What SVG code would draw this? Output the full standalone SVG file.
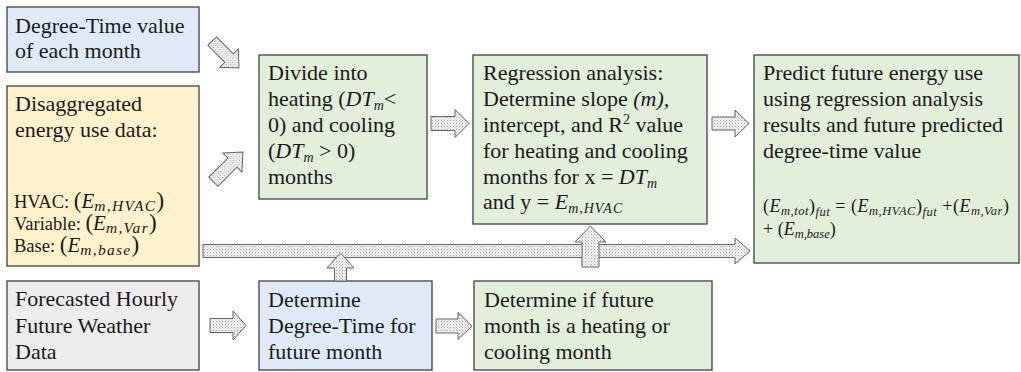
<svg xmlns="http://www.w3.org/2000/svg" width="1021" height="372" viewBox="0 0 1021 372">
  <style>
    .box { stroke: #3f3f3f; stroke-width: 1.3; }
    .blue { fill: #dfeaf6; }
    .orange { fill: #fff2cc; }
    .gray { fill: #ededed; }
    .green { fill: #e2efda; }
    .t { font-family: "Liberation Serif", "Times New Roman", serif; font-size: 22px; fill: #1a1a1a; }
    .ts { font-size: 18.5px; }
    .mi { font-style: italic; }
    .me { font-style: italic; font-size: 21px; }
    .sub { font-style: italic; font-size: 14px; }
    .subl { font-style: italic; font-size: 15.5px; letter-spacing: 1.3px; }
    .wide { letter-spacing: 1px; }
    .sup { font-size: 14px; }
    .par { font-size: 23px; }
    .f { font-family: "Liberation Serif", "Times New Roman", serif; font-size: 18px; fill: #1a1a1a; }
    .fs { font-style: italic; font-size: 12.5px; }
    .blk { fill: url(#dots); stroke: #666666; stroke-width: 1; stroke-linejoin: miter; }
  </style>
  <defs>
    <pattern id="dots" width="3" height="3" patternUnits="userSpaceOnUse">
      <rect width="3" height="3" fill="#f1f1f1"/>
      <rect width="1" height="1" fill="#a9a9a9"/>
      <rect x="1.5" y="1.5" width="1" height="1" fill="#c8c8c8"/>
    </pattern>
  </defs>

  <!-- inputs -->
  <g id="degree-time-input">
    <rect class="box blue" x="7" y="7" width="192" height="65"/>
    <text class="t" x="15" y="33">Degree-Time value</text>
    <text class="t" x="15" y="58">of each month</text>
  </g>

  <g id="energy-data">
    <rect class="box orange" x="7" y="86" width="192" height="180"/>
    <text class="t" x="15" y="111">Disaggregated</text>
    <text class="t" x="15" y="137">energy use data:</text>
    <text class="t ts" x="14" y="208">HVAC: <tspan class="par">(</tspan><tspan class="me">E</tspan><tspan class="subl" dy="3">m,HVAC</tspan><tspan class="par" dy="-3">)</tspan></text>
    <text class="t ts" x="14" y="230">Variable: <tspan class="par">(</tspan><tspan class="me">E</tspan><tspan class="subl" dy="3">m,Var</tspan><tspan class="par" dy="-3">)</tspan></text>
    <text class="t ts" x="14" y="252">Base: <tspan class="par">(</tspan><tspan class="me">E</tspan><tspan class="subl" dy="3">m,base</tspan><tspan class="par" dy="-3">)</tspan></text>
  </g>

  <g id="weather-data">
    <rect class="box gray" x="7" y="281" width="192" height="89"/>
    <text class="t" x="15" y="306">Forecasted Hourly</text>
    <text class="t" x="15" y="333">Future Weather</text>
    <text class="t" x="15" y="359">Data</text>
  </g>

  <!-- processing steps -->
  <g id="divide-months">
    <rect class="box green" x="259" y="55" width="168" height="144"/>
    <text class="t" x="268" y="80">Divide into</text>
    <text class="t" x="268" y="106">heating (<tspan class="mi">DT</tspan><tspan class="sub" dy="4">m</tspan><tspan dy="-4">&lt;</tspan></text>
    <text class="t" x="268" y="132">0) and cooling</text>
    <text class="t" x="268" y="158">(<tspan class="mi">DT</tspan><tspan class="sub" dy="4">m</tspan><tspan dy="-4"> &gt; 0)</tspan></text>
    <text class="t" x="268" y="184">months</text>
  </g>

  <g id="regression">
    <rect class="box green" x="473" y="55" width="234" height="169"/>
    <text class="t" x="483" y="80">Regression analysis:</text>
    <text class="t" x="483" y="106">Determine slope <tspan class="mi">(m),</tspan></text>
    <text class="t" x="483" y="132">intercept, and R<tspan class="sup" dy="-8">2</tspan><tspan dy="8"> value</tspan></text>
    <text class="t" x="483" y="158">for heating and cooling</text>
    <text class="t" x="483" y="184">months for x = <tspan class="mi">DT</tspan><tspan class="sub" dy="4">m</tspan></text>
    <text class="t" x="483" y="209">and y = <tspan class="mi">E</tspan><tspan class="sub wide" dy="4" font-size="15">m,HVAC</tspan></text>
  </g>

  <g id="predict">
    <rect class="box green" x="754" y="55" width="265" height="208"/>
    <text class="t" x="763" y="80">Predict future energy use</text>
    <text class="t" x="763" y="106">using regression analysis</text>
    <text class="t" x="763" y="132">results and future predicted</text>
    <text class="t" x="763" y="158">degree-time value</text>
    <text class="f" x="763" y="212" textLength="246" lengthAdjust="spacing">(<tspan class="mi">E</tspan><tspan class="fs" dy="3">m,tot</tspan><tspan dy="-3">)</tspan><tspan class="fs" dy="4">fut</tspan><tspan dy="-4"> = (</tspan><tspan class="mi">E</tspan><tspan class="fs" dy="3">m,HVAC</tspan><tspan dy="-3">)</tspan><tspan class="fs" dy="4">fut</tspan><tspan dy="-4"> +(</tspan><tspan class="mi">E</tspan><tspan class="fs" dy="3">m,Var</tspan><tspan dy="-3">)</tspan></text>
    <text class="f" x="763" y="235">+ (<tspan class="mi">E</tspan><tspan class="fs" dy="3">m,base</tspan><tspan dy="-3">)</tspan></text>
  </g>

  <g id="future-degree-time">
    <rect class="box blue" x="259" y="281" width="173" height="89"/>
    <text class="t" x="268" y="307">Determine</text>
    <text class="t" x="268" y="333">Degree-Time for</text>
    <text class="t" x="268" y="359">future month</text>
  </g>

  <g id="heating-or-cooling">
    <rect class="box green" x="474" y="281" width="238" height="89"/>
    <text class="t" x="484" y="307">Determine if future</text>
    <text class="t" x="484" y="333">month is a heating or</text>
    <text class="t" x="484" y="359">cooling month</text>
  </g>

  <!-- block arrows -->
  <g id="connectors">
    <polygon class="blk" transform="translate(239,68) rotate(45)" points="-38,-6 -14,-6 -14,-13 0,0 -14,13 -14,6 -38,6"/>
    <polygon class="blk" transform="translate(243,152) rotate(-45)" points="-42,-6.5 -15,-6.5 -15,-13.5 0,0 -15,13.5 -15,6.5 -42,6.5"/>
    <polygon class="blk" points="431,116.5 455,116.5 455,109.5 469,123.5 455,137.5 455,130.5 431,130.5"/>
    <polygon class="blk" points="712,117 735,117 735,110 749,123.5 735,137 735,130 712,130"/>
    <polygon class="blk" points="203,244.5 735,244.5 735,238 750,251 735,264 735,257.5 203,257.5"/>
    <polygon class="blk" points="582,267 582,242 575,242 590.5,226 606,242 599,242 599,267"/>
    <polygon class="blk" points="334.5,281 334.5,268 327,268 340.5,253 354,268 346.5,268 346.5,281"/>
    <polygon class="blk" points="210,318.5 233,318.5 233,311 246,325.5 233,340 233,332.5 210,332.5"/>
    <polygon class="blk" points="436,319 458,319 458,312.5 472,326 458,339.5 458,333 436,333"/>
  </g>
</svg>
